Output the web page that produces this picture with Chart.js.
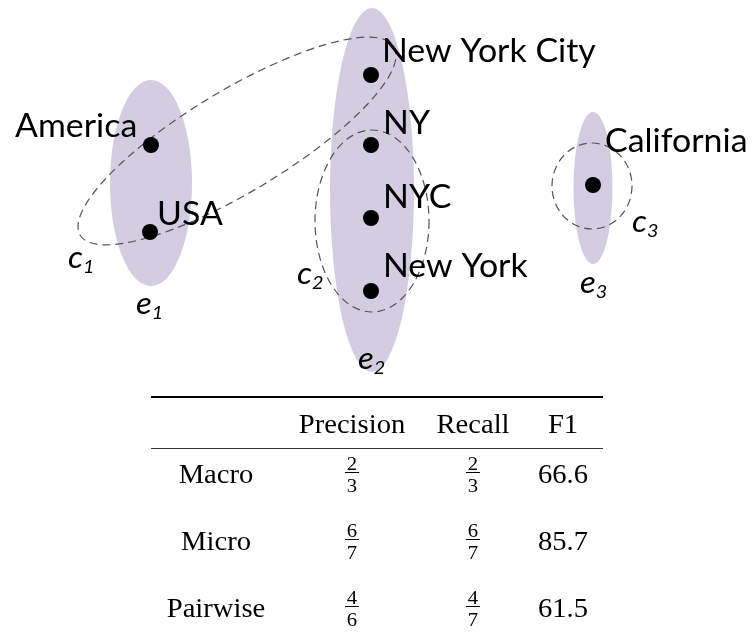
<!DOCTYPE html>
<html>
<head>
<meta charset="utf-8">
<script src="https://cdn.jsdelivr.net/npm/chart.js@4.4.1/dist/chart.umd.min.js"></script>
<style>
html, body { margin: 0; padding: 0; background: #fff; }
#wrap { width: 753px; height: 637px; position: relative; }
</style>
</head>
<body>
<div id="wrap"><canvas id="myChart"></canvas></div>
<script>
// mentions (diagram units, y grows downwards)
const mentionNames = ['America', 'USA', 'New York City', 'NY', 'NYC', 'New York', 'California'];
const mentionX = [151, 150, 371, 371, 371, 371, 593];
const mentionY = [145, 232, 75, 145, 218, 291, 185];
const labelX = [15, 157, 382, 383, 383, 383, 605];
const labelY = [137, 225, 62, 134, 208, 277, 152];

// gold entities e1..e3
const entityNames = ['1', '2', '3'];
const entityX = [151, 372, 593];
const entityY = [183, 190, 188];
const entityRx = [41, 42, 19.5];
const entityRy = [103, 182, 76];
const entityLabelX = [136, 358, 580];
const entityLabelY = [314, 369, 293];

// predicted clusters c1..c3
const clusterNames = ['1', '2', '3'];
const clusterX = [237, 372, 592];
const clusterY = [141, 221, 186];
const clusterRx = [183, 57, 40];
const clusterRy = [51, 91, 43];
const clusterAngle = [-31, 0, 0];
const clusterLabelX = [68, 297, 632];
const clusterLabelY = [268, 284, 232];

// metrics table
const tableCols = ['Precision', 'Recall', 'F1'];
const tableRows = ['Macro', 'Micro', 'Pairwise'];
const precisionNum = [2, 6, 4];
const precisionDen = [3, 7, 6];
const recallNum = [2, 6, 4];
const recallDen = [3, 7, 7];
const f1Values = ['66.6', '85.7', '61.5'];

const ctx = document.getElementById('myChart');

function px(chart, x) { return chart.scales.x.getPixelForValue(x); }
function py(chart, y) { return chart.scales.y.getPixelForValue(y); }

// text with a slight horizontal stretch, like the source figure
function stretchText(c, text, x, y, sx, align) {
    c.save();
    let w = c.measureText(text).width * sx;
    let left = align === 'center' ? x - w / 2 : x;
    c.translate(left, y);
    c.scale(sx, 1);
    c.textAlign = 'left';
    c.fillText(text, 0, 0);
    c.restore();
    return w;
}

function drawSubLabel(c, letter, sub, x, y) {
    c.fillStyle = '#000';
    c.textBaseline = 'alphabetic';
    c.font = 'italic 30px Lato';
    let w = stretchText(c, letter, x, y, 1.1, 'left');
    c.font = 'italic 18px Lato';
    stretchText(c, sub, x + w, y + 5, 1.1, 'left');
}

function drawFrac(c, num, den, x, base) {
    c.font = '18px "Liberation Serif"';
    stretchText(c, String(num), x, base - 13, 1.15, 'center');
    stretchText(c, String(den), x, base + 9, 1.15, 'center');
    c.lineWidth = 1;
    c.beginPath();
    c.moveTo(x - 7, base - 10.5);
    c.lineTo(x + 7, base - 10.5);
    c.stroke();
}

const diagramPlugin = {
    id: 'diagram',
    beforeDatasetsDraw(chart) {
        const c = chart.ctx;
        c.save();
        // entity blobs
        c.fillStyle = '#d3cde1';
        for (let i = 0; i < entityNames.length; i++) {
            let cx = px(chart, entityX[i]), cy = py(chart, entityY[i]);
            let rx = px(chart, entityX[i] + entityRx[i]) - cx;
            let ry = py(chart, entityY[i] + entityRy[i]) - cy;
            c.beginPath();
            c.ellipse(cx, cy, Math.abs(rx), Math.abs(ry), 0, 0, Math.PI * 2);
            c.fill();
        }
        // cluster outlines
        c.strokeStyle = '#555';
        c.lineWidth = 1.2;
        c.setLineDash([8, 5]);
        for (let i = 0; i < clusterNames.length; i++) {
            let cx = px(chart, clusterX[i]), cy = py(chart, clusterY[i]);
            let rx = px(chart, clusterX[i] + clusterRx[i]) - cx;
            let ry = py(chart, clusterY[i] + clusterRy[i]) - cy;
            c.beginPath();
            c.ellipse(cx, cy, Math.abs(rx), Math.abs(ry), clusterAngle[i] * Math.PI / 180, 0, Math.PI * 2);
            c.stroke();
        }
        c.restore();
    },
    afterDatasetsDraw(chart) {
        const c = chart.ctx;
        c.save();
        c.fillStyle = '#000';
        c.textBaseline = 'alphabetic';
        // mention labels
        c.font = '32px Lato';
        mentionNames.forEach((n, i) => stretchText(c, n, px(chart, labelX[i]), py(chart, labelY[i]), 1.06, 'left'));
        entityNames.forEach((n, i) => drawSubLabel(c, 'e', n, px(chart, entityLabelX[i]), py(chart, entityLabelY[i])));
        clusterNames.forEach((n, i) => drawSubLabel(c, 'c', n, px(chart, clusterLabelX[i]), py(chart, clusterLabelY[i])));

        // table
        let left = px(chart, 151), right = px(chart, 603);
        c.strokeStyle = '#000';
        c.lineWidth = 2;
        c.beginPath(); c.moveTo(left, py(chart, 397)); c.lineTo(right, py(chart, 397)); c.stroke();
        c.lineWidth = 1;
        c.strokeStyle = '#333';
        c.beginPath(); c.moveTo(left, py(chart, 448.5)); c.lineTo(right, py(chart, 448.5)); c.stroke();

        c.strokeStyle = '#000';
        let colX = [352, 473, 563].map(v => px(chart, v));
        let rowX = px(chart, 216);
        let rowY = [483, 550, 617].map(v => py(chart, v));
        c.font = '27px "Liberation Serif"';
        tableCols.forEach((t, j) => stretchText(c, t, colX[j], py(chart, 433), 1.06, 'center'));
        tableRows.forEach((t, i) => {
            c.font = '27px "Liberation Serif"';
            stretchText(c, t, rowX, rowY[i], 1.06, 'center');
            stretchText(c, f1Values[i], colX[2], rowY[i], 1.06, 'center');
            drawFrac(c, precisionNum[i], precisionDen[i], colX[0], rowY[i]);
            drawFrac(c, recallNum[i], recallDen[i], colX[1], rowY[i]);
        });
        c.restore();
    }
};

const points = mentionNames.map((n, i) => ({ x: mentionX[i], y: mentionY[i] }));

new Chart(ctx, {
    type: 'scatter',
    data: {
        datasets: [{
            label: 'mentions',
            data: points,
            backgroundColor: '#000',
            borderWidth: 0,
            pointRadius: 8,
            pointHoverRadius: 8
        }]
    },
    options: {
        responsive: true,
        maintainAspectRatio: false,
        animation: false,
        layout: { padding: 0, autoPadding: false },
        plugins: { legend: { display: false }, tooltip: { enabled: false } },
        scales: {
            x: { type: 'linear', min: 0, max: 753, display: false },
            y: { type: 'linear', min: 0, max: 637, reverse: true, display: false }
        }
    },
    plugins: [diagramPlugin]
});
</script>
</body>
</html>
